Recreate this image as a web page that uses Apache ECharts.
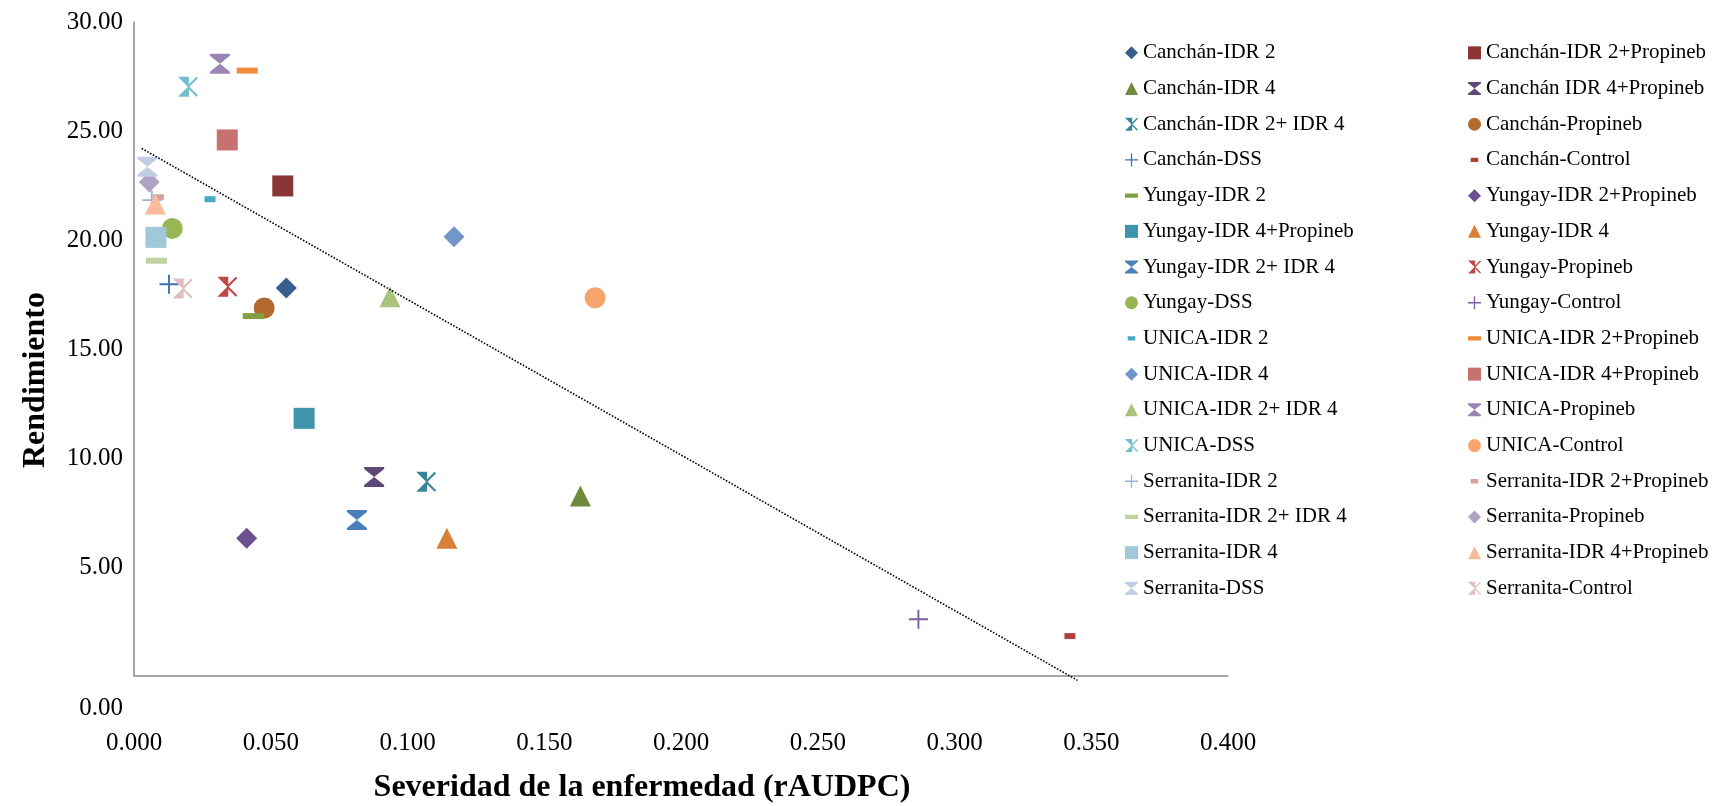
<!DOCTYPE html>
<html>
<head>
<meta charset="utf-8">
<script src="https://cdn.jsdelivr.net/npm/echarts@6/dist/echarts.min.js"></script>
<style>
  html, body { margin: 0; padding: 0; background: #fff; }
  #chart { width: 1717px; height: 806px; }
</style>
</head>
<body>
<div id="chart"></div>
<script>
// Treatments (cultivar - treatment), in plotting order
const seriesNames = [
  'Canchán-IDR 2', 'Canchán-IDR 2+Propineb', 'Canchán-IDR 4', 'Canchán IDR 4+Propineb',
  'Canchán-IDR 2+ IDR 4', 'Canchán-Propineb', 'Canchán-DSS', 'Canchán-Control',
  'Yungay-IDR 2', 'Yungay-IDR 2+Propineb', 'Yungay-IDR 4+Propineb', 'Yungay-IDR 4',
  'Yungay-IDR 2+ IDR 4', 'Yungay-Propineb', 'Yungay-DSS', 'Yungay-Control',
  'UNICA-IDR 2', 'UNICA-IDR 2+Propineb', 'UNICA-IDR 4', 'UNICA-IDR 4+Propineb',
  'UNICA-IDR 2+ IDR 4', 'UNICA-Propineb', 'UNICA-DSS', 'UNICA-Control',
  'Serranita-IDR 2', 'Serranita-IDR 2+Propineb', 'Serranita-IDR 2+ IDR 4', 'Serranita-Propineb',
  'Serranita-IDR 4', 'Serranita-IDR 4+Propineb', 'Serranita-DSS', 'Serranita-Control'
];

// Disease severity (rAUDPC) per treatment
const severity = [
  0.0557, 0.0544, 0.1632, 0.0878, 0.1068, 0.0476, 0.0128, 0.3422,
  0.0436, 0.0412, 0.0622, 0.1144, 0.0815, 0.0341, 0.0140, 0.2868,
  0.0278, 0.0414, 0.1170, 0.0341, 0.0936, 0.0314, 0.0197, 0.1686,
  0.0065, 0.0089, 0.0082, 0.0056, 0.0080, 0.0078, 0.0049, 0.0178
];

// Yield (Rendimiento) per treatment
const yieldValues = [
  17.80, 22.48, 8.26, 9.13, 8.91, 16.88, 17.97, 1.83,
  16.51, 6.32, 11.82, 6.32, 7.16, 17.86, 20.53, 2.60,
  21.87, 27.77, 20.15, 24.59, 17.40, 28.09, 27.03, 17.35,
  21.83, 21.96, 19.05, 22.66, 20.12, 21.65, 23.36, 17.77
];

// Linear trend line end points (severity, yield)
const trendSeverity = [0.0028, 0.345];
const trendYield = [24.2, -0.2];

// ---- styling ----
const FONT = '"Liberation Serif", "Times New Roman", serif';

const colors = [
  '#375E8D', '#8B3536', '#6E8A3C', '#5E4878', '#37869A', '#B46A2E', '#4070B0', '#B03F3C',
  '#83A044', '#6B5090', '#3D94AC', '#D87F38', '#4A7EBB', '#BD4A47', '#98B654', '#7D5FA3',
  '#46AAC4', '#F08A3C', '#7296C8', '#C77270', '#A9C47C', '#9985B5', '#73BDD0', '#F7A56D',
  '#9AB1D8', '#D6A0A0', '#BFD39E', '#AFA3C4', '#A0C8D8', '#F9BB9A', '#C3CDE3', '#E0BEBE'
];

const markerCycle = ['diamond', 'square', 'triangle', 'x', 'star', 'circle', 'plus', 'shortDash', 'longDash'];

const HOURGLASS = 'path://M0,0L20,0L20,2L10,10L20,18L20,20L0,20L0,18L10,10L0,2Z';
const STAR = 'path://M0,0L11,0L11,20L0,20L10,10Z M10,8.5L18.5,0L20,1.5L11.5,10L20,18.5L18.5,20L10,11.5Z';
const PLUS = 'path://M9,0H11V9H20V11H11V20H9V11H0V9H9Z';
const SHORT_DASH_ICON = 'path://M2.5,4H9.5V8H2.5Z M0,0L0.01,0L0,0.01Z M12,12L12.01,12L12,12.01Z';
const LONG_DASH_ICON = 'path://M0,4H12V8H0Z M0,0L0.01,0L0,0.01Z M12,12L12.01,12L12,12.01Z';

const markerStyle = {
  diamond:   { symbol: 'diamond',  size: 21, icon: 'diamond' },
  square:    { symbol: 'rect',     size: 21, icon: 'rect' },
  triangle:  { symbol: 'triangle', size: 21, icon: 'triangle' },
  x:         { symbol: HOURGLASS,  size: 20, icon: HOURGLASS },
  star:      { symbol: STAR,       size: 20, icon: STAR },
  circle:    { symbol: 'circle',   size: 21, icon: 'circle' },
  plus:      { symbol: PLUS,       size: 19, icon: PLUS },
  shortDash: { symbol: 'rect',     size: [11, 6], icon: SHORT_DASH_ICON },
  longDash:  { symbol: 'rect',     size: [21, 6], icon: LONG_DASH_ICON }
};

const markerOf = i => markerStyle[markerCycle[i % markerCycle.length]];

const scatterSeries = seriesNames.map((name, i) => ({
  name,
  type: 'scatter',
  data: [[severity[i], yieldValues[i]]],
  symbol: markerOf(i).symbol,
  symbolSize: markerOf(i).size,
  itemStyle: { color: colors[i], opacity: 1 },
  emphasis: { disabled: true },
  z: 2 + i * 0.01
}));

const trendSeries = {
  name: 'trend',
  type: 'line',
  data: trendSeverity.map((x, i) => [x, trendYield[i]]),
  symbol: 'none',
  clip: false,
  lineStyle: { color: '#000', width: 1.6, type: [1.6, 1.6] },
  emphasis: { disabled: true },
  z: 5
};

const legendItem = name => {
  const i = seriesNames.indexOf(name);
  return { name, icon: markerOf(i).icon };
};

const legendBase = {
  orient: 'vertical',
  top: 30,
  itemWidth: 13,
  itemHeight: 13,
  itemGap: 0,
  selectedMode: false,
  textStyle: { fontFamily: FONT, fontSize: 21, color: '#000', lineHeight: 35.7 }
};

const leftColumn = seriesNames.filter((_, i) => i % 2 === 0);
const rightColumn = seriesNames.filter((_, i) => i % 2 === 1);

const chart = echarts.init(document.getElementById('chart'), null, { renderer: 'canvas' });

chart.setOption({
  backgroundColor: '#fff',
  animation: false,
  grid: { left: 134, right: 489, top: 22, bottom: 130, containLabel: false },
  xAxis: {
    type: 'value',
    min: 0,
    max: 0.4,
    interval: 0.05,
    axisLine: { show: true, onZero: false, lineStyle: { color: '#898989', width: 1.5 } },
    axisTick: { show: false },
    splitLine: { show: false },
    axisLabel: {
      margin: 55,
      fontFamily: FONT,
      fontSize: 25,
      color: '#000',
      formatter: v => v.toFixed(3)
    }
  },
  yAxis: {
    type: 'value',
    min: 0,
    max: 30,
    interval: 5,
    axisLine: { show: true, onZero: false, lineStyle: { color: '#898989', width: 1.5 } },
    axisTick: { show: false },
    splitLine: { show: false },
    axisLabel: {
      margin: 11,
      fontFamily: FONT,
      fontSize: 25,
      color: '#000',
      formatter: v => (v === 0 ? '{low|0.00}' : v.toFixed(2)),
      rich: {
        low: { padding: [64, 0, 0, 0], fontFamily: FONT, fontSize: 25, color: '#000' }
      }
    }
  },
  legend: [
    Object.assign({ left: 1120, data: leftColumn.map(legendItem) }, legendBase),
    Object.assign({ left: 1463, data: rightColumn.map(legendItem) }, legendBase)
  ],
  graphic: [
    {
      type: 'text',
      x: 642,
      y: 788,
      style: {
        text: 'Severidad de la enfermedad (rAUDPC)',
        font: 'bold 32px ' + FONT,
        fill: '#000',
        textAlign: 'center',
        textVerticalAlign: 'middle'
      }
    },
    {
      type: 'text',
      x: 36,
      y: 380,
      rotation: Math.PI / 2,
      style: {
        text: 'Rendimiento',
        font: 'bold 32px ' + FONT,
        fill: '#000',
        textAlign: 'center',
        textVerticalAlign: 'middle'
      }
    }
  ],
  series: scatterSeries.concat([trendSeries])
});
</script>
</body>
</html>
